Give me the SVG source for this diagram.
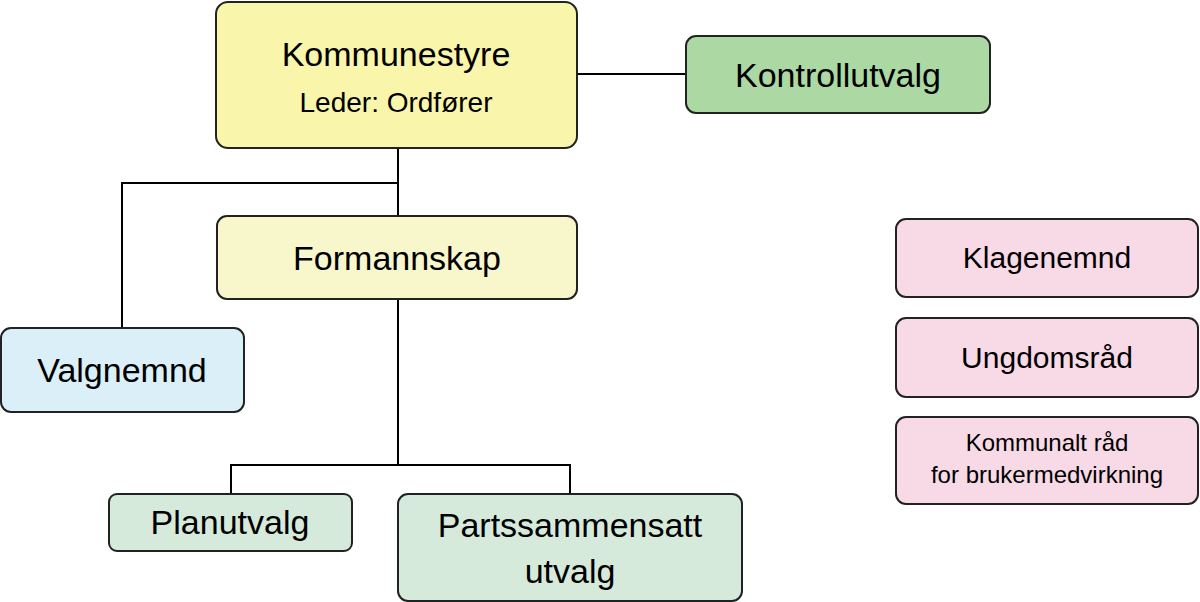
<svg xmlns="http://www.w3.org/2000/svg" width="1200" height="602" viewBox="0 0 1200 602">
<style>
rect{stroke:#222;stroke-width:2}
text{font-family:"Liberation Sans",Arial,sans-serif;text-anchor:middle;fill:#000}
.l{stroke:#000;stroke-width:2;fill:none}
</style>
<rect width="1200" height="602" fill="#fff" style="stroke:none"/>
<g id="connectors">
<path class="l" d="M398,148V216M398,183H122V328M577,74H686M398,299V465M231,494V465H570V494"/>
</g>
<g id="kommunestyre"><rect x="216" y="2" width="361" height="146" rx="12" fill="#f9f5aa"/>
<text x="396" y="66" font-size="34">Kommunestyre</text><text x="396" y="112" font-size="28">Leder: Ordfører</text></g>
<g id="kontrollutvalg"><rect x="686" y="36" width="304" height="77" rx="10" fill="#acd8a4"/>
<text x="838" y="87" font-size="34">Kontrollutvalg</text></g>
<g id="formannskap"><rect x="217" y="216" width="360" height="83" rx="10" fill="#f8f7cc"/>
<text x="397" y="270" font-size="34">Formannskap</text></g>
<g id="valgnemnd"><rect x="1" y="328" width="243" height="84" rx="10" fill="#daeff8"/>
<text x="122" y="382" font-size="34">Valgnemnd</text></g>
<g id="planutvalg"><rect x="109" y="494" width="243" height="57" rx="8" fill="#d5eadb"/>
<text x="230" y="534" font-size="34">Planutvalg</text></g>
<g id="partssammensatt"><rect x="398" y="494" width="344" height="107" rx="10" fill="#d5eadb"/>
<text x="570" y="537" font-size="34">Partssammensatt</text><text x="570" y="583" font-size="34">utvalg</text></g>
<g id="klagenemnd"><rect x="896" y="219" width="302" height="78" rx="10" fill="#f8d9e6"/>
<text x="1047" y="268" font-size="30">Klagenemnd</text></g>
<g id="ungdomsrad"><rect x="896" y="318" width="302" height="79" rx="10" fill="#f8d9e6"/>
<text x="1047" y="368" font-size="30">Ungdomsråd</text></g>
<g id="kommunalt"><rect x="896" y="417" width="302" height="87" rx="10" fill="#f8d9e6"/>
<text x="1047" y="451" font-size="24">Kommunalt råd</text><text x="1047" y="483" font-size="24">for brukermedvirkning</text></g>
</svg>
